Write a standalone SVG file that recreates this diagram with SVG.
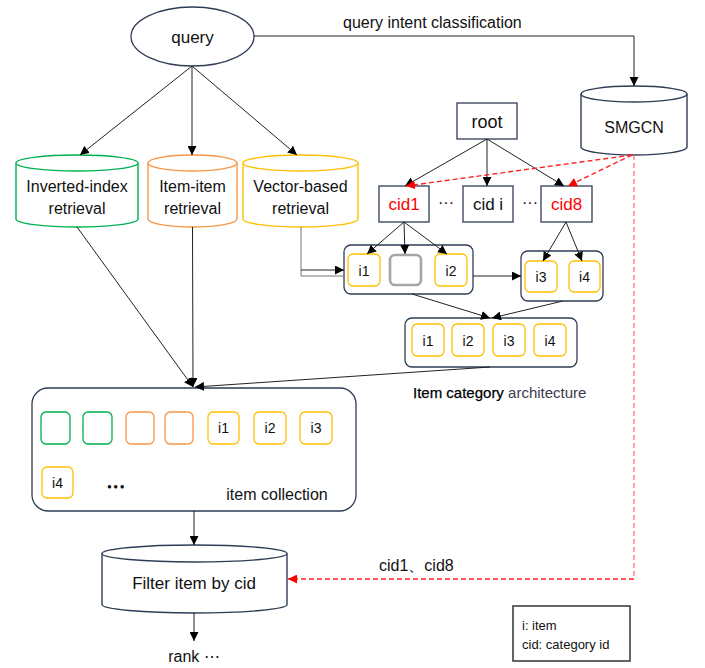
<svg xmlns="http://www.w3.org/2000/svg" width="705" height="668" viewBox="0 0 705 668">
  <defs>
    <marker id="ah" viewBox="0 0 10 10" refX="10" refY="5" markerWidth="9" markerHeight="9" markerUnits="userSpaceOnUse" orient="auto">
      <path d="M0,0 L10,5 L0,10 z" fill="#000"/>
    </marker>
    <marker id="ahr" viewBox="0 0 10 10" refX="10" refY="5" markerWidth="9" markerHeight="9" markerUnits="userSpaceOnUse" orient="auto">
      <path d="M0,0 L10,5 L0,10 z" fill="#ff0000"/>
    </marker>
    <style>
      text { font-family: "Liberation Sans", Arial, sans-serif; fill: #111; }
      .node { fill: #fff; stroke: #2e3d55; stroke-width: 1.3; }
      .cyl { fill: #fff; stroke-width: 1.4; }
      .green { stroke: #00b050; }
      .orange { stroke: #f79646; }
      .yellow { stroke: #ffc000; }
      .navy { stroke: #2e3d55; }
      .item { fill: #fff; stroke-width: 1.3; }
      .lbl { font-size: 16px; text-anchor: middle; }
      .il { font-size: 14px; text-anchor: middle; }
      .red { fill: #ff0000; }
      .edge { fill: none; stroke: #222; stroke-width: 1; }
      .dash { fill: none; stroke: #ff2020; stroke-width: 1.4; stroke-dasharray: 5 3; }
    </style>
  </defs>

  <!-- query -->
  <g id="query">
    <ellipse cx="192.5" cy="36.5" rx="61.5" ry="29.5" class="node"/>
    <text x="192.5" y="43" class="lbl" style="font-size:17px">query</text>
  </g>

  <!-- retrieval channels -->
  <g id="inverted-index">
    <path d="M16,163 V219 A61,8 0 0 0 138,219 V163" class="cyl green"/>
    <ellipse cx="77" cy="163" rx="61" ry="8" class="cyl green"/>
    <text x="77" y="192" class="lbl">Inverted-index</text>
    <text x="77" y="214" class="lbl">retrieval</text>
  </g>
  <g id="item-item">
    <path d="M148,163 V219 A44.5,8 0 0 0 237,219 V163" class="cyl orange"/>
    <ellipse cx="192.5" cy="163" rx="44.5" ry="8" class="cyl orange"/>
    <text x="192.5" y="192" class="lbl">Item-item</text>
    <text x="192.5" y="214" class="lbl">retrieval</text>
  </g>
  <g id="vector-based">
    <path d="M243,163 V219 A57.5,8 0 0 0 358,219 V163" class="cyl yellow"/>
    <ellipse cx="300.5" cy="163" rx="57.5" ry="8" class="cyl yellow"/>
    <text x="300.5" y="192" class="lbl">Vector-based</text>
    <text x="300.5" y="214" class="lbl">retrieval</text>
  </g>

  <!-- intent model -->
  <g id="smgcn">
    <path d="M581,94 V147 A53,8 0 0 0 687,147 V94" class="cyl navy"/>
    <ellipse cx="634" cy="94" rx="53" ry="8" class="cyl navy"/>
    <text x="634" y="133" class="lbl">SMGCN</text>
  </g>

  <!-- category tree -->
  <g id="root">
    <rect x="457" y="103" width="60" height="36" class="node"/>
    <text x="487" y="128" class="lbl" style="font-size:18px">root</text>
  </g>
  <g id="cid1">
    <rect x="379" y="186" width="50" height="36" class="node"/>
    <text x="404" y="210" class="lbl red" style="font-size:17px">cid1</text>
  </g>
  <g id="cid-i">
    <rect x="463" y="186" width="50" height="36" class="node"/>
    <text x="488" y="210" class="lbl" style="font-size:17px">cid i</text>
  </g>
  <g id="cid8">
    <rect x="541" y="186" width="51" height="36" class="node"/>
    <text x="566.5" y="210" class="lbl red" style="font-size:17px">cid8</text>
  </g>
  <text x="446" y="208" class="lbl">···</text>
  <text x="530" y="208" class="lbl">···</text>

  <!-- items under cid1 -->
  <g id="cid1-items">
    <rect x="344" y="245" width="129" height="49" rx="7" class="node"/>
    <rect x="348" y="254" width="32" height="32" rx="5" class="item yellow"/>
    <text x="364" y="276" class="il">i1</text>
    <rect x="390" y="255" width="31" height="30" rx="5" fill="#fff" stroke="#a6a6a6" stroke-width="2.6"/>
    <rect x="435" y="254" width="32" height="32" rx="5" class="item yellow"/>
    <text x="451" y="276" class="il">i2</text>
  </g>

  <!-- items under cid8 -->
  <g id="cid8-items">
    <rect x="521" y="251" width="82" height="50" rx="7" class="node"/>
    <rect x="525" y="261" width="32" height="31" rx="5" class="item yellow"/>
    <text x="541" y="282" class="il">i3</text>
    <rect x="569" y="261" width="31" height="31" rx="5" class="item yellow"/>
    <text x="584.5" y="282" class="il">i4</text>
  </g>

  <!-- merged items -->
  <g id="merged-items">
    <rect x="405" y="318" width="172" height="49" rx="7" class="node"/>
    <rect x="412" y="324" width="32" height="32" rx="5" class="item yellow"/>
    <text x="428" y="346" class="il">i1</text>
    <rect x="452" y="324" width="32" height="32" rx="5" class="item yellow"/>
    <text x="468" y="346" class="il">i2</text>
    <rect x="493" y="324" width="32" height="32" rx="5" class="item yellow"/>
    <text x="509" y="346" class="il">i3</text>
    <rect x="534" y="324" width="32" height="32" rx="5" class="item yellow"/>
    <text x="550" y="346" class="il">i4</text>
  </g>
  <text x="413" y="398" style="font-size:15px"><tspan fill="#000" stroke="#000" stroke-width="0.25">Item category</tspan><tspan fill="#3a3a4e"> architecture</tspan></text>

  <!-- item collection -->
  <g id="item-collection">
    <rect x="32" y="388" width="324" height="123" rx="16" class="node"/>
    <rect x="41" y="412" width="29" height="32" rx="5" class="item green"/>
    <rect x="83" y="412" width="29" height="32" rx="5" class="item green"/>
    <rect x="126" y="412" width="28" height="32" rx="5" class="item orange"/>
    <rect x="165" y="412" width="28" height="32" rx="5" class="item orange"/>
    <rect x="208" y="412" width="31" height="32" rx="5" class="item yellow"/>
    <text x="223.5" y="433" class="il">i1</text>
    <rect x="254" y="412" width="32" height="32" rx="5" class="item yellow"/>
    <text x="270" y="433" class="il">i2</text>
    <rect x="300" y="412" width="32" height="32" rx="5" class="item yellow"/>
    <text x="316" y="433" class="il">i3</text>
    <rect x="42" y="467" width="31" height="31" rx="5" class="item yellow"/>
    <text x="57.5" y="488" class="il">i4</text>
    <text x="116.5" y="489" class="lbl" style="font-size:8px;letter-spacing:1.5px">●●●</text>
    <text x="277" y="500" class="lbl">item collection</text>
  </g>

  <!-- filter -->
  <g id="filter">
    <path d="M102,553.5 V604.5 A92.5,8.5 0 0 0 287,604.5 V553.5" class="cyl navy"/>
    <ellipse cx="194.5" cy="553.5" rx="92.5" ry="8.5" class="cyl navy"/>
    <text x="194" y="589" class="lbl" style="font-size:17px">Filter item by cid</text>
  </g>

  <g id="rank">
    <text x="194" y="662" class="lbl" style="font-size:16px">rank ⋯</text>
  </g>

  <!-- legend -->
  <g id="legend">
    <rect x="513" y="606" width="117" height="55" fill="#fff" stroke="#333" stroke-width="1.5"/>
    <text x="522" y="630" style="font-size:13px">i: item</text>
    <text x="522" y="649" style="font-size:13px">cid: category id</text>
  </g>

  <!-- connectors -->
  <g id="connectors">
    <path d="M192,66 L80,155" class="edge" marker-end="url(#ah)"/>
    <path d="M192,66 L192,155" class="edge" marker-end="url(#ah)"/>
    <path d="M192,66 L297,155" class="edge" marker-end="url(#ah)"/>
    <path d="M254,36 H634 V86" class="edge" marker-end="url(#ah)"/>
    <text x="343" y="28" style="font-size:16px">query intent classification</text>

    <path d="M487,139 L405,186" class="edge" marker-end="url(#ah)"/>
    <path d="M487,139 L487,186" class="edge" marker-end="url(#ah)"/>
    <path d="M487,139 L564,186" class="edge" marker-end="url(#ah)"/>

    <path d="M404,222 L367,254" class="edge" marker-end="url(#ah)"/>
    <path d="M404,222 L405,254" class="edge" marker-end="url(#ah)"/>
    <path d="M404,222 L447,254" class="edge" marker-end="url(#ah)"/>
    <path d="M566,222 L543,261" class="edge" marker-end="url(#ah)"/>
    <path d="M566,222 L582,261" class="edge" marker-end="url(#ah)"/>

    <path d="M301,227 V276 H344" fill="none" stroke="#777" stroke-width="1"/>
    <path d="M301,270 H344" class="edge" marker-end="url(#ah)"/>

    <path d="M473,276 H521" class="edge" marker-end="url(#ah)"/>
    <path d="M412,294 L490,318" class="edge" marker-end="url(#ah)"/>
    <path d="M563,301 L492,318" class="edge" marker-end="url(#ah)"/>

    <path d="M77,227 L193,387" class="edge" marker-end="url(#ah)"/>
    <path d="M192.5,227 L193,387" class="edge" marker-end="url(#ah)"/>
    <path d="M490,367 L195,387" class="edge" stroke-width="1.3" marker-end="url(#ah)"/>

    <path d="M194,511 V545" class="edge" marker-end="url(#ah)"/>
    <path d="M194,613 V641" class="edge" marker-end="url(#ah)"/>

    <path d="M632,155 L406,186" class="dash" marker-end="url(#ahr)"/>
    <path d="M632,155 L568,186" class="dash" marker-end="url(#ahr)"/>
    <path d="M634,155 V579" class="dash" stroke="#ff7f7f" style="stroke:#ff7f7f"/>
    <path d="M634,579 H288" class="dash" marker-end="url(#ahr)"/>
    <text x="379" y="571" style="font-size:16px">cid1、cid8</text>
  </g>
</svg>
